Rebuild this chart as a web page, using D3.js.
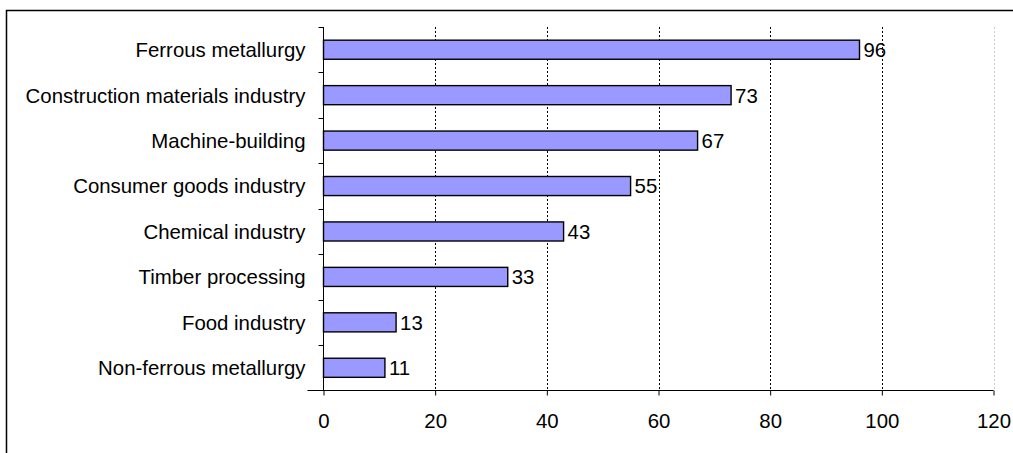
<!DOCTYPE html>
<html>
<head>
<meta charset="utf-8">
<script src="https://cdn.jsdelivr.net/npm/d3@7"></script>
<style>
  html, body { margin: 0; padding: 0; background: #fff; }
  svg { display: block; }
  text { font-family: "Liberation Sans", Arial, sans-serif; fill: #000; }
</style>
</head>
<body>
<svg id="chart" width="1013" height="453"></svg>
<script>
// Industry sectors and their values
const categories = [
  "Ferrous metallurgy",
  "Construction materials industry",
  "Machine-building",
  "Consumer goods industry",
  "Chemical industry",
  "Timber processing",
  "Food industry",
  "Non-ferrous metallurgy"
];
const values = [96, 73, 67, 55, 43, 33, 13, 11];
const xTicks = [0, 20, 40, 60, 80, 100, 120];

const fontSize = 20.4;
const svg = d3.select("#chart");

// Outer frame (left and top edges)
svg.append("path")
  .attr("d", "M6.5,453 L6.5,10.5 L1013,10.5")
  .attr("fill", "none")
  .attr("stroke", "#000")
  .attr("stroke-width", 1.5);

const plotLeft = 323.5, plotRight = 993.5, plotTop = 27, plotBottom = 390.5;

const x = d3.scaleLinear().domain([0, 120]).range([plotLeft, plotRight]);
const y = d3.scaleBand().domain(categories).range([plotTop, plotBottom])
  .paddingInner(0.58).paddingOuter(0.29);

// Vertical gridlines
svg.append("g").selectAll("line")
  .data(xTicks.filter(t => t > 0))
  .join("line")
  .attr("x1", d => Math.round(x(d)) + 0.5)
  .attr("x2", d => Math.round(x(d)) + 0.5)
  .attr("y1", plotTop)
  .attr("y2", plotBottom)
  .attr("stroke", d => d === 120 ? "#ccc" : "#000")
  .attr("stroke-width", 1)
  .attr("stroke-dasharray", "2,2");

// Bars
svg.append("g").selectAll("rect")
  .data(values)
  .join("rect")
  .attr("x", x(0))
  .attr("y", (d, i) => y(categories[i]))
  .attr("width", d => x(d) - x(0))
  .attr("height", y.bandwidth())
  .attr("fill", "#9999FF")
  .attr("stroke", "#000")
  .attr("stroke-width", 1.4);

// Value labels
svg.append("g").selectAll("text")
  .data(values)
  .join("text")
  .attr("x", d => x(d) + 4)
  .attr("y", (d, i) => y(categories[i]) + y.bandwidth() / 2)
  .attr("dy", "0.36em")
  .attr("font-size", fontSize)
  .text(d => d);

// Y axis: line, band boundary ticks, category labels
const yAxis = svg.append("g");
yAxis.append("line")
  .attr("x1", plotLeft).attr("x2", plotLeft)
  .attr("y1", plotTop).attr("y2", plotBottom)
  .attr("stroke", "#000");
const boundaries = d3.range(categories.length).map(i => plotTop + i * (plotBottom - plotTop) / categories.length);
yAxis.selectAll("line.tick")
  .data(boundaries)
  .join("line")
  .attr("class", "tick")
  .attr("x1", plotLeft - 5).attr("x2", plotLeft)
  .attr("y1", d => Math.round(d) + 0.5).attr("y2", d => Math.round(d) + 0.5)
  .attr("stroke", "#000");
yAxis.selectAll("text")
  .data(categories)
  .join("text")
  .attr("x", plotLeft - 18)
  .attr("y", d => y(d) + y.bandwidth() / 2)
  .attr("dy", "0.36em")
  .attr("text-anchor", "end")
  .attr("font-size", fontSize)
  .text(d => d);

// X axis
const xAxis = d3.axisBottom(x).tickValues(xTicks).tickSize(5).tickPadding(18).tickSizeOuter(0);
const gx = svg.append("g")
  .attr("transform", `translate(0,${plotBottom})`)
  .call(xAxis);
gx.select(".domain").attr("stroke", "#000").attr("d", `M${plotLeft - 16},0H${plotRight}`);
gx.selectAll(".tick line").attr("stroke", "#000");
gx.selectAll(".tick text")
  .attr("font-size", fontSize)
  .attr("font-family", "Liberation Sans, Arial, sans-serif")
  .attr("fill", "#000");
</script>
</body>
</html>
